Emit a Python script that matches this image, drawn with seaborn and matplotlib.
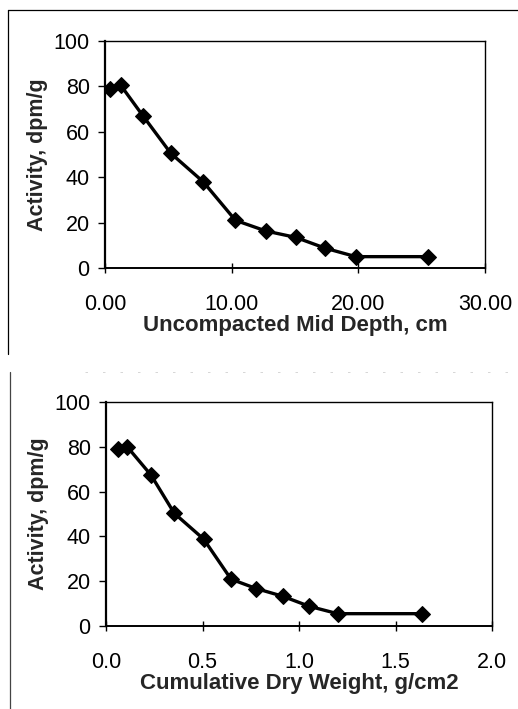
import matplotlib
matplotlib.use("Agg")
import matplotlib.pyplot as plt
import seaborn as sns
import pandas as pd
from matplotlib.lines import Line2D

# Data
activity_top = [79, 80.5, 67, 50.5, 38, 21, 16.3, 13.5, 8.7, 5, 5]
mid_depth_cm = [0.4, 1.24, 3.0, 5.2, 7.75, 10.3, 12.7, 15.05, 17.4, 19.8, 25.5]

activity_bottom = [79, 80, 67.4, 50.3, 38.8, 20.9, 16.7, 13.3, 8.8, 5.5, 5.5]
cum_dry_weight = [0.06, 0.11, 0.233, 0.354, 0.506, 0.648, 0.779, 0.915, 1.053, 1.2, 1.637]

top_xticks = [0, 10, 20, 30]
top_xticklabels = ["0.00", "10.00", "20.00", "30.00"]
bot_xticks = [0, 0.5, 1.0, 1.5, 2.0]
bot_xticklabels = ["0.0", "0.5", "1.0", "1.5", "2.0"]
yticks = [0, 20, 40, 60, 80, 100]

sns.set_theme(style="white")
plt.rcParams["font.family"] = ["Liberation Sans", "DejaVu Sans"]

W, H = 518, 709
fig = plt.figure(figsize=(W / 100, H / 100), dpi=100)
fig.patch.set_facecolor("white")

def rect(l, t, r, b):
    return [l / W, 1 - b / H, (r - l) / W, (b - t) / H]

ax1 = fig.add_axes(rect(105, 41, 485, 268))
ax2 = fig.add_axes(rect(106, 402, 492, 626))

df1 = pd.DataFrame({"x": mid_depth_cm, "y": activity_top})
df2 = pd.DataFrame({"x": cum_dry_weight, "y": activity_bottom})

for ax, df, xlim, xt, xtl, xlabel in [
    (ax1, df1, (0, 30), top_xticks, top_xticklabels, "Uncompacted Mid Depth, cm"),
    (ax2, df2, (0, 2), bot_xticks, bot_xticklabels, "Cumulative Dry Weight, g/cm2"),
]:
    sns.lineplot(data=df, x="x", y="y", ax=ax, color="black", linewidth=2.4,
                 marker="D", markersize=8.5, markeredgecolor="black",
                 markerfacecolor="black", sort=False)
    ax.set_xlim(*xlim)
    ax.set_ylim(0, 100)
    ax.set_xticks(xt)
    ax.set_xticklabels(xtl)
    ax.set_yticks(yticks)
    ax.set_xlabel(xlabel, fontsize=16, fontweight="bold", labelpad=0)
    ax.set_ylabel("Activity, dpm/g", fontsize=15.5, fontweight="bold", labelpad=4)
    ax.tick_params(axis="x", direction="inout", length=7, width=1, pad=15,
                   labelsize=15.5, colors="black", bottom=True)
    ax.tick_params(axis="y", direction="out", length=5, width=1, pad=6,
                   labelsize=15.5, colors="black", left=True)
    for s in ax.spines.values():
        s.set_color("black")
        s.set_linewidth(1.0)
    ax.spines["left"].set_linewidth(1.6)
    ax.spines["bottom"].set_linewidth(1.4)
    ax.grid(False)

# scanned frame lines
fig.add_artist(Line2D([8 / W, 1], [1 - 10 / H, 1 - 10 / H], color="black", lw=0.9))
fig.add_artist(Line2D([8 / W, 8 / W], [1 - 10 / H, 1 - 354 / H], color="black", lw=0.9))
fig.add_artist(Line2D([10 / W, 10 / W], [1 - 372 / H, 0], color="#444444", lw=0.9))
fig.add_artist(Line2D([85 / W, 1], [1 - 372 / H, 1 - 372 / H], color="#d0d0d0", lw=0.6,
                      linestyle=(0, (3, 18))))

fig.savefig("out.png", dpi=100, facecolor="white")
